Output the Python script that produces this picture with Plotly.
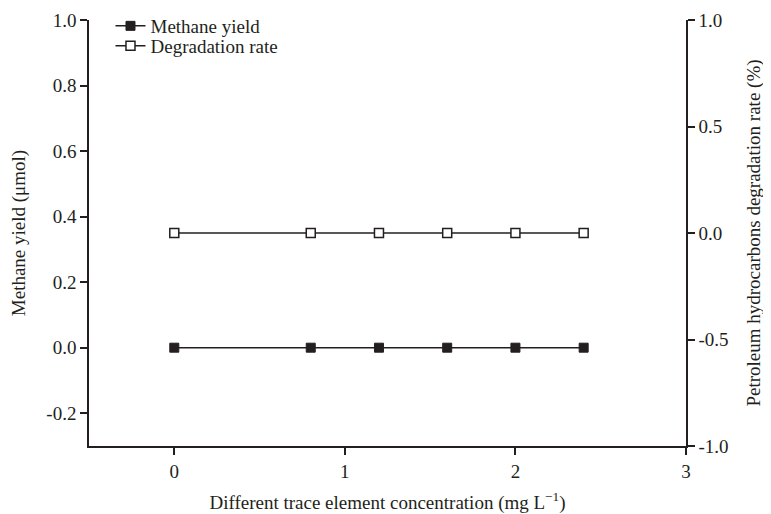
import plotly.graph_objects as go

concentration = [0, 0.8, 1.2, 1.6, 2.0, 2.4]
methane_yield = [0, 0, 0, 0, 0, 0]
degradation_rate = [0, 0, 0, 0, 0, 0]

x_ticks = [0, 1, 2, 3]
y_ticks = [-0.2, 0.0, 0.2, 0.4, 0.6, 0.8, 1.0]
y_ticktext = ["-0.2", "0.0", "0.2", "0.4", "0.6", "0.8", "1.0"]
y2_ticks = [-1.0, -0.5, 0.0, 0.5, 1.0]
y2_ticktext = ["-1.0", "-0.5", "0.0", "0.5", "1.0"]

font = "Liberation Serif, Times New Roman, serif"
ink = "#231f20"

fig = go.Figure()
fig.add_trace(go.Scatter(
    x=concentration, y=methane_yield, name="Methane yield",
    mode="lines+markers", legend="legend",
    line=dict(color=ink, width=1.5),
    marker=dict(symbol="square", size=9, color=ink, line=dict(color=ink, width=1)),
))
fig.add_trace(go.Scatter(
    x=concentration, y=degradation_rate, name="Degradation rate",
    mode="lines+markers", yaxis="y2", legend="legend2",
    line=dict(color=ink, width=1.5),
    marker=dict(symbol="square", size=9, color="white", line=dict(color=ink, width=1.5)),
))

axis_common = dict(
    showline=True, linecolor=ink, linewidth=1.5,
    ticks="outside", ticklen=7, tickwidth=1.5, tickcolor=ink,
    showgrid=False, zeroline=False, automargin=False,
    tickfont=dict(family=font, size=19, color=ink),
)
title_font = dict(family=font, size=19, color=ink)
legend_common = dict(xanchor="left", yanchor="top", bgcolor="rgba(0,0,0,0)",
                     font=dict(family=font, size=19, color=ink), itemwidth=30)

fig.update_layout(
    width=771, height=514,
    margin=dict(l=81, r=93, t=12, b=76, autoexpand=False),
    paper_bgcolor="white", plot_bgcolor="white",
    font=dict(family=font, size=19, color=ink),
    showlegend=True,
    legend=dict(x=0.036, y=1.0305, **legend_common),
    legend2=dict(x=0.036, y=0.9836, **legend_common),
    xaxis=dict(range=[-0.5, 3], tickvals=x_ticks,
               title=dict(text="Different trace element concentration (mg L<sup>−1</sup>)",
                          font=title_font, standoff=15),
               **axis_common),
    yaxis=dict(range=[-0.3, 1.0], tickvals=y_ticks, ticktext=y_ticktext,
               title=dict(text="Methane yield (μmol)", font=title_font, standoff=17),
               **axis_common),
    yaxis2=dict(range=[-1.0, 1.0], tickvals=y2_ticks, ticktext=y2_ticktext,
                overlaying="y", side="right",
                title=dict(text="Petroleum hydrocarbons degradation rate (%)",
                           font=title_font, standoff=19),
                **axis_common),
)

fig.write_html("out.html")
